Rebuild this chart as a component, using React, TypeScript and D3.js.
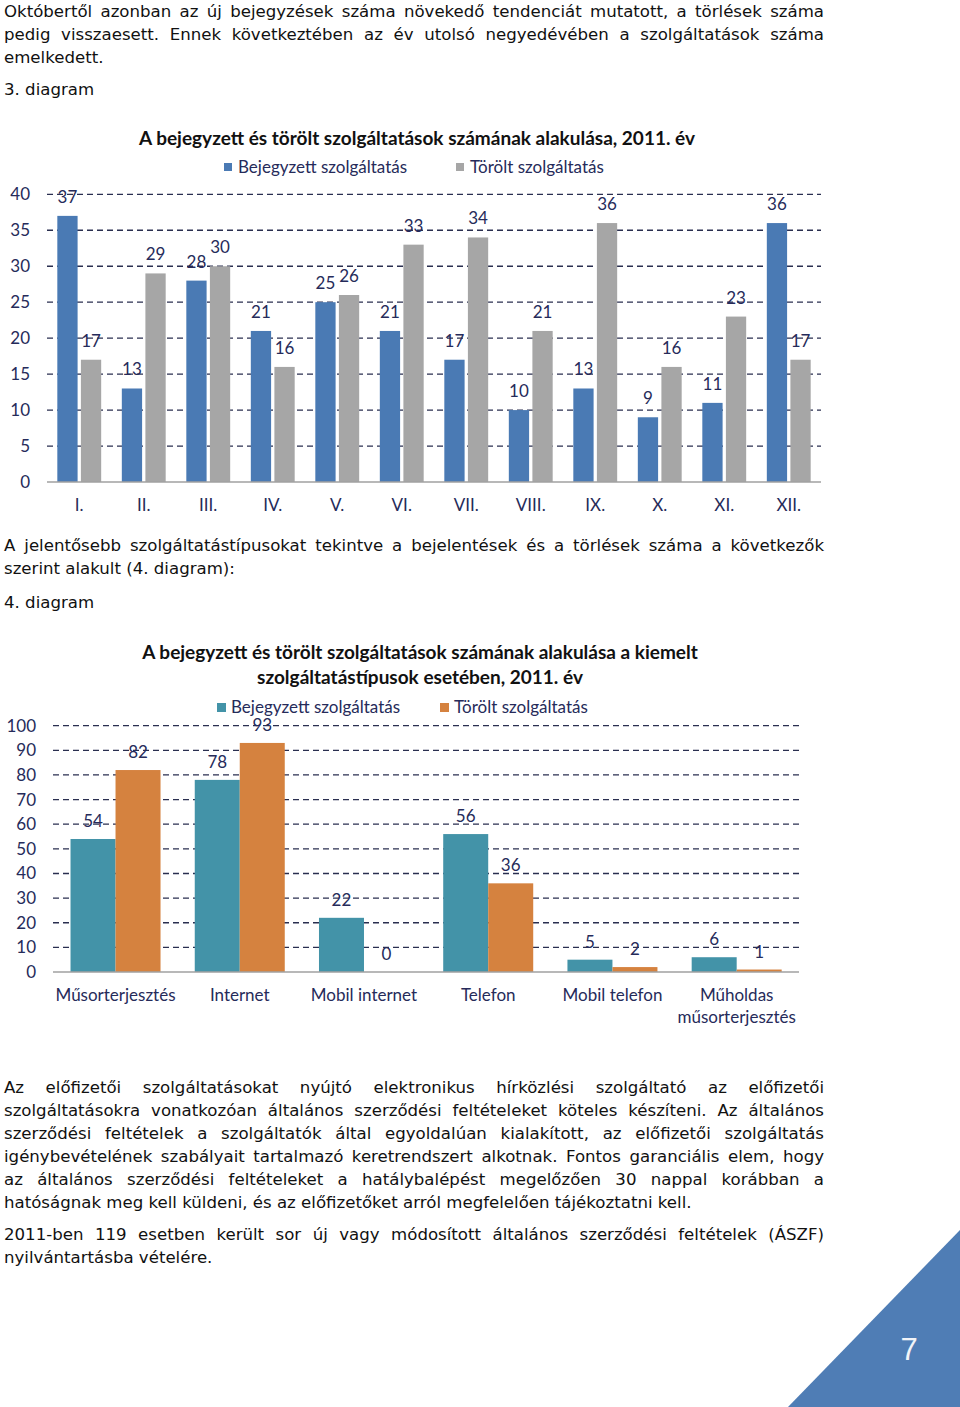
import React, { useEffect, useRef } from "react";
import * as d3 from "d3";

// ---------- data ----------
const months = ["I.", "II.", "III.", "IV.", "V.", "VI.", "VII.", "VIII.", "IX.", "X.", "XI.", "XII."];
const registeredMonthly = [37, 13, 28, 21, 25, 21, 17, 10, 13, 9, 11, 36];
const deletedMonthly = [17, 29, 30, 16, 26, 33, 34, 21, 36, 16, 23, 17];
const yTicks1 = [0, 5, 10, 15, 20, 25, 30, 35, 40];

const serviceTypes = ["Műsorterjesztés", "Internet", "Mobil internet", "Telefon", "Mobil telefon", "Műholdas műsorterjesztés"];
const serviceTypeLines = [["Műsorterjesztés"], ["Internet"], ["Mobil internet"], ["Telefon"], ["Mobil telefon"], ["Műholdas", "műsorterjesztés"]];
const registeredByType = [54, 78, 22, 56, 5, 6];
const deletedByType = [82, 93, 0, 36, 2, 1];
const yTicks2 = [0, 10, 20, 30, 40, 50, 60, 70, 80, 90, 100];

const seriesNames = ["Bejegyzett szolgáltatás", "Törölt szolgáltatás"];
const title1 = "A bejegyzett és törölt szolgáltatások számának alakulása, 2011. év";
const title2Lines = ["A bejegyzett és törölt szolgáltatások számának alakulása a kiemelt", "szolgáltatástípusok esetében, 2011. év"];

const para1 = [
  { t: "Októbertől azonban az új bejegyzések száma növekedő tendenciát mutatott, a törlések száma", j: true },
  { t: "pedig visszaesett. Ennek következtében az év utolsó negyedévében a szolgáltatások száma", j: true },
  { t: "emelkedett.", j: false },
];
const caption1 = "3. diagram";
const para2 = [
  { t: "A jelentősebb szolgáltatástípusokat tekintve a bejelentések és a törlések száma a következők", j: true },
  { t: "szerint alakult (4. diagram):", j: false },
];
const caption2 = "4. diagram";
const para3 = [
  { t: "Az előfizetői szolgáltatásokat nyújtó elektronikus hírközlési szolgáltató az előfizetői", j: true },
  { t: "szolgáltatásokra vonatkozóan általános szerződési feltételeket köteles készíteni. Az általános", j: true },
  { t: "szerződési feltételek a szolgáltatók által egyoldalúan kialakított, az előfizetői szolgáltatás", j: true },
  { t: "igénybevételének szabályait tartalmazó keretrendszert alkotnak. Fontos garanciális elem, hogy", j: true },
  { t: "az általános szerződési feltételeket a hatálybalépést megelőzően 30 nappal korábban a", j: true },
  { t: "hatóságnak meg kell küldeni, és az előfizetőket arról megfelelően tájékoztatni kell.", j: false },
];
const para4 = [
  { t: "2011-ben 119 esetben került sor új vagy módosított általános szerződési feltételek (ÁSZF)", j: true },
  { t: "nyilvántartásba vételére.", j: false },
];
const pageNumber = "7";

// ---------- styles ----------
const bodyFont = "'DejaVu Sans', sans-serif";
const bodySize = 16.6;
const chartFont = "Lato, 'Open Sans', sans-serif";
const navy = "#262b5a";
const gridColor = "#2a2f50";
const labelSize = 17;
const titleSize = 19;

const TEXT_LEFT = 4;
const TEXT_RIGHT = 824;

function Para({ lines, y0, step }: { lines: { t: string; j: boolean }[]; y0: number; step: number }) {
  return (
    <g>
      {lines.map((l, i) => (
        <text
          key={i}
          className={l.j ? "just" : "plain"}
          x={TEXT_LEFT}
          y={y0 + i * step}
          fontFamily={bodyFont}
          fontSize={bodySize}
          fill="#111"
        >
          {l.t}
        </text>
      ))}
    </g>
  );
}

function Chart1() {
  const x0 = d3.scaleBand<string>().domain(months).range([47, 821]).paddingInner(0.32).paddingOuter(0.16);
  const x1 = d3.scaleBand<string>().domain(["r", "d"]).range([0, x0.bandwidth()]).paddingInner(0.14);
  const y = d3.scaleLinear().domain([0, 40]).range([482, 194.3]);
  const colors = { r: "#4a7ab4", d: "#a6a6a6" };
  return (
    <g>
      <text x={417} y={145} textAnchor="middle" fontFamily={chartFont} fontWeight={700} fontSize={titleSize} fill="#111">
        {title1}
      </text>
      <rect x={224} y={163} width={8} height={8} fill={colors.r} />
      <text x={238} y={173} fontFamily={chartFont} fontSize={labelSize} fill={navy}>{seriesNames[0]}</text>
      <rect x={456} y={163} width={8} height={8} fill={colors.d} />
      <text x={470} y={173} fontFamily={chartFont} fontSize={labelSize} fill={navy}>{seriesNames[1]}</text>
      {yTicks1.map((t) => (
        <g key={t}>
          {t > 0 && (
            <line x1={47} x2={821} y1={y(t)} y2={y(t)} stroke={gridColor} strokeWidth={1.3} strokeDasharray="6 4" />
          )}
          <text x={30} y={y(t) + 6} textAnchor="end" fontFamily={chartFont} fontSize={labelSize} fill={navy}>{t}</text>
        </g>
      ))}
      {months.map((m, i) => {
        const gx = x0(m)!;
        const vals = [
          { k: "r" as const, v: registeredMonthly[i] },
          { k: "d" as const, v: deletedMonthly[i] },
        ];
        return (
          <g key={m}>
            {vals.map((d) => (
              <g key={d.k}>
                <rect x={gx + x1(d.k)!} y={y(d.v)} width={x1.bandwidth()} height={y(0) - y(d.v)} fill={colors[d.k]} />
                <text
                  x={gx + x1(d.k)! + x1.bandwidth() / 2}
                  y={y(d.v) - 13}
                  textAnchor="middle"
                  fontFamily={chartFont}
                  fontSize={labelSize}
                  fill={navy}
                >
                  {d.v}
                </text>
              </g>
            ))}
            <text x={gx + x0.bandwidth() / 2} y={511} textAnchor="middle" fontFamily={chartFont} fontSize={labelSize} fill={navy}>
              {m}
            </text>
          </g>
        );
      })}
      <line x1={47} x2={821} y1={y(0)} y2={y(0)} stroke="#a0a0a0" strokeWidth={1.5} />
    </g>
  );
}

function Chart2() {
  const x0 = d3.scaleBand<string>().domain(serviceTypes).range([53.4, 798.8]).paddingInner(0.2755).paddingOuter(0.1378);
  const x1 = d3.scaleBand<string>().domain(["r", "d"]).range([0, x0.bandwidth()]).paddingInner(0);
  const y = d3.scaleLinear().domain([0, 100]).range([972, 725.7]);
  const colors = { r: "#4393a8", d: "#d5823f" };
  return (
    <g>
      {title2Lines.map((l, i) => (
        <text key={i} x={420} y={659 + i * 24.5} textAnchor="middle" fontFamily={chartFont} fontWeight={700} fontSize={titleSize} fill="#111">
          {l}
        </text>
      ))}
      <rect x={217} y={703} width={9} height={9} fill={colors.r} />
      <text x={231} y={712.5} fontFamily={chartFont} fontSize={labelSize} fill={navy}>{seriesNames[0]}</text>
      <rect x={440} y={703} width={9} height={9} fill={colors.d} />
      <text x={454} y={712.5} fontFamily={chartFont} fontSize={labelSize} fill={navy}>{seriesNames[1]}</text>
      {yTicks2.map((t) => (
        <g key={t}>
          {t > 0 && (
            <line x1={53} x2={799} y1={y(t)} y2={y(t)} stroke={gridColor} strokeWidth={1.3} strokeDasharray="6 4" />
          )}
          <text x={36} y={y(t) + 6} textAnchor="end" fontFamily={chartFont} fontSize={labelSize} fill={navy}>{t}</text>
        </g>
      ))}
      {serviceTypes.map((c, i) => {
        const gx = x0(c)!;
        const vals = [
          { k: "r" as const, v: registeredByType[i] },
          { k: "d" as const, v: deletedByType[i] },
        ];
        return (
          <g key={c}>
            {vals.map((d) => (
              <g key={d.k}>
                <rect x={gx + x1(d.k)!} y={y(d.v)} width={x1.bandwidth()} height={y(0) - y(d.v)} fill={colors[d.k]} />
                <text
                  x={gx + x1(d.k)! + x1.bandwidth() / 2}
                  y={y(d.v) - 12}
                  textAnchor="middle"
                  fontFamily={chartFont}
                  fontSize={labelSize}
                  fill={navy}
                >
                  {d.v}
                </text>
              </g>
            ))}
            {serviceTypeLines[i].map((l, k) => (
              <text key={k} x={gx + x0.bandwidth() / 2} y={1001 + k * 22} textAnchor="middle" fontFamily={chartFont} fontSize={labelSize} fill={navy}>
                {l}
              </text>
            ))}
          </g>
        );
      })}
      <line x1={53} x2={799} y1={y(0)} y2={y(0)} stroke="#a0a0a0" strokeWidth={1.5} />
    </g>
  );
}

export default function App() {
  const ref = useRef<SVGSVGElement>(null);
  useEffect(() => {
    if (!ref.current) return;
    d3.select(ref.current)
      .selectAll<SVGTextElement, unknown>("text.just")
      .each(function () {
        const el = this;
        el.setAttribute("word-spacing", "0");
        const len = el.getComputedTextLength();
        const spaces = (el.textContent || "").split(" ").length - 1;
        if (spaces > 0) {
          const ws = (TEXT_RIGHT - TEXT_LEFT - len) / spaces;
          el.setAttribute("word-spacing", String(ws));
        }
      });
  }, []);

  return (
    <svg
      ref={ref}
      width={960}
      height={1407}
      viewBox="0 0 960 1407"
      style={{ position: "absolute", left: 0, top: 0, background: "#fff", display: "block" }}
    >
      <rect width={960} height={1407} fill="#fff" />
      <Para lines={para1} y0={16.5} step={23} />
      <text x={TEXT_LEFT} y={95} fontFamily={bodyFont} fontSize={bodySize} fill="#111">{caption1}</text>
      <Chart1 />
      <Para lines={para2} y0={551} step={23} />
      <text x={TEXT_LEFT} y={608} fontFamily={bodyFont} fontSize={bodySize} fill="#111">{caption2}</text>
      <Chart2 />
      <Para lines={para3} y0={1092.5} step={23} />
      <Para lines={para4} y0={1240} step={23} />
      <path d="M960,1230 L960,1407 L788,1407 Z" fill="#4f7db5" />
      <text x={909} y={1360} textAnchor="middle" fontFamily="'Liberation Sans', Arial, sans-serif" fontSize={31} fill="#f2f4f8">{pageNumber}</text>
    </svg>
  );
}
